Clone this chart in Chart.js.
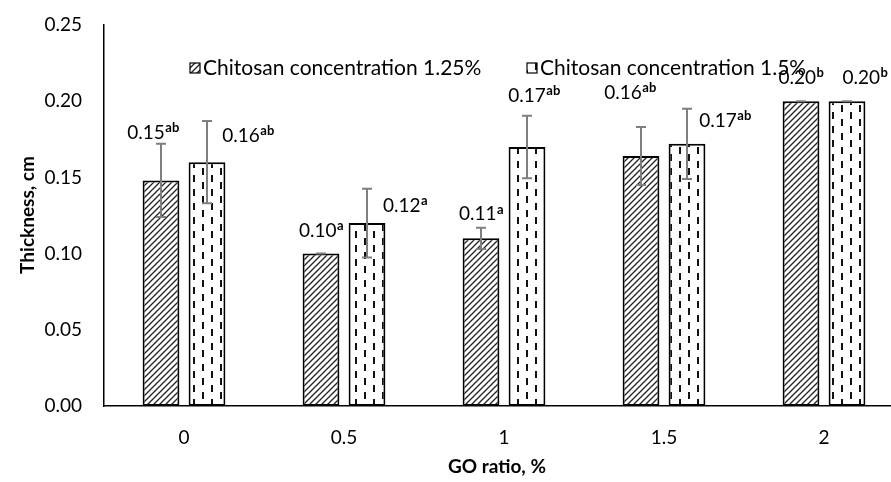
<!DOCTYPE html>
<html>
<head>
<meta charset="utf-8">
<script src="https://cdn.jsdelivr.net/npm/chart.js@4/dist/chart.umd.min.js"></script>
<style>
  html, body { margin: 0; padding: 0; background: #fff; overflow: hidden; width: 891px; height: 482px; }
  #wrap { position: relative; width: 904px; height: 482px; }
</style>
</head>
<body>
<div id="wrap"><canvas id="chart"></canvas></div>
<script>
// Data
const categories = ['0', '0.5', '1', '1.5', '2'];
const conc125 = [0.148, 0.100, 0.110, 0.164, 0.200];
const conc15 = [0.160, 0.120, 0.170, 0.172, 0.200];
const err125 = [0.024, 0, 0.007, 0.019, 0];
const err15 = [0.027, 0.0225, 0.0205, 0.023, 0];
const text125 = ['0.15', '0.10', '0.11', '0.16', '0.20'];
const sup125 = ['ab', 'a', 'a', 'ab', 'b'];
const text15 = ['0.16', '0.12', '0.17', '0.17', '0.20'];
const sup15 = ['ab', 'a', 'ab', 'ab', 'b'];
const yTicks = [0, 0.05, 0.10, 0.15, 0.20, 0.25];

// label offsets from the bar top (pixels), placed by hand like in the original
const offs125 = [[-8, -48], [0, -23], [0, -24], [-11, -63], [0, -23]];
const offs15 = [[41, -26], [38, -17], [7, -51], [38, -23], [18, -23]];

const FONT = 'Lato, "Open Sans", sans-serif';

// Fill patterns
function hatchPattern() {
  const c = document.createElement('canvas');
  c.width = 6; c.height = 6;
  const g = c.getContext('2d');
  g.fillStyle = '#fff';
  g.fillRect(0, 0, 6, 6);
  g.strokeStyle = '#222';
  g.lineWidth = 1.3;
  g.beginPath();
  g.moveTo(0, 6); g.lineTo(6, 0);
  g.moveTo(-1, 1); g.lineTo(1, -1);
  g.moveTo(5, 7); g.lineTo(7, 5);
  g.stroke();
  return g.createPattern(c, 'repeat');
}

function dashPattern() {
  const c = document.createElement('canvas');
  c.width = 18; c.height = 14;
  const g = c.getContext('2d');
  g.fillStyle = '#fff';
  g.fillRect(0, 0, 18, 14);
  g.fillStyle = '#111';
  g.fillRect(4, 0, 2, 7);
  g.fillRect(13, 7, 2, 7);
  return g.createPattern(c, 'repeat');
}

const hatch = hatchPattern();
const dashes = dashPattern();

// Error bars, drawn over the bars
const errorBars = {
  id: 'errorBars',
  afterDatasetsDraw(chart) {
    const ctx = chart.ctx;
    const y = chart.scales.y;
    const errs = [err125, err15];
    ctx.save();
    ctx.strokeStyle = '#7f7f7f';
    ctx.lineWidth = 2;
    chart.data.datasets.forEach((ds, i) => {
      chart.getDatasetMeta(i).data.forEach((bar, j) => {
        const v = ds.data[j], e = errs[i][j];
        const top = y.getPixelForValue(v + e);
        const bot = y.getPixelForValue(v - e);
        ctx.beginPath();
        ctx.moveTo(bar.x, top); ctx.lineTo(bar.x, bot);
        ctx.moveTo(bar.x - 5, top); ctx.lineTo(bar.x + 5, top);
        ctx.moveTo(bar.x - 5, bot); ctx.lineTo(bar.x + 5, bot);
        ctx.stroke();
      });
    });
    ctx.restore();
  }
};

// Value labels with superscript letters
const valueLabels = {
  id: 'valueLabels',
  afterDatasetsDraw(chart) {
    const ctx = chart.ctx;
    const texts = [text125, text15], sups = [sup125, sup15], offs = [offs125, offs15];
    ctx.save();
    ctx.fillStyle = '#000';
    ctx.textBaseline = 'middle';
    chart.data.datasets.forEach((ds, i) => {
      chart.getDatasetMeta(i).data.forEach((bar, j) => {
        const main = texts[i][j], sup = sups[i][j];
        ctx.font = '19px ' + FONT;
        const w1 = ctx.measureText(main).width;
        ctx.font = 'bold 13px ' + FONT;
        const w2 = ctx.measureText(sup).width;
        const cx = bar.x + offs[i][j][0];
        const cy = bar.y + offs[i][j][1];
        const x0 = cx - (w1 + w2) / 2;
        ctx.textAlign = 'left';
        ctx.font = '19px ' + FONT;
        ctx.fillText(main, x0, cy);
        ctx.font = 'bold 13px ' + FONT;
        ctx.fillText(sup, x0 + w1 + 0.5, cy - 5);
      });
    });
    ctx.restore();
  }
};

// Legend inside the plot and axis titles
const extras = {
  id: 'extras',
  afterDraw(chart) {
    const ctx = chart.ctx;
    ctx.save();
    const items = [
      { x: 190, fill: hatch, label: chart.data.datasets[0].label },
      { x: 527, fill: dashes, label: chart.data.datasets[1].label }
    ];
    items.forEach(it => {
      ctx.fillStyle = it.fill;
      ctx.fillRect(it.x, 63, 10, 10);
      ctx.strokeStyle = '#000';
      ctx.lineWidth = 1.2;
      ctx.strokeRect(it.x, 63, 10, 10);
      ctx.fillStyle = '#000';
      ctx.font = '21px ' + FONT;
      ctx.textAlign = 'left';
      ctx.textBaseline = 'middle';
      ctx.fillText(it.label, it.x + 13, 68);
    });

    ctx.font = 'bold 19px ' + FONT;
    ctx.textAlign = 'center';
    ctx.textBaseline = 'middle';
    ctx.fillText('GO ratio, %', 497, 467);
    ctx.translate(28, 215);
    ctx.rotate(-Math.PI / 2);
    ctx.fillText('Thickness, cm', 0, 0);
    ctx.restore();
  }
};

new Chart(document.getElementById('chart'), {
  type: 'bar',
  data: {
    labels: categories,
    datasets: [
      {
        label: 'Chitosan concentration 1.25%',
        data: conc125,
        backgroundColor: hatch,
        borderColor: '#000',
        borderWidth: 2,
        borderSkipped: false
      },
      {
        label: 'Chitosan concentration 1.5%',
        data: conc15,
        backgroundColor: dashes,
        borderColor: '#000',
        borderWidth: 2,
        borderSkipped: false
      }
    ]
  },
  options: {
    responsive: true,
    maintainAspectRatio: false,
    animation: false,
    categoryPercentage: 0.575,
    barPercentage: 0.8,
    layout: { padding: { top: 25, left: 0, right: 0, bottom: 0 } },
    plugins: {
      legend: { display: false },
      tooltip: { enabled: false }
    },
    scales: {
      x: {
        grid: { display: false, drawTicks: false },
        border: { display: true, color: '#000', width: 1.5 },
        ticks: { color: '#000', font: { family: FONT, size: 19 }, padding: 20 },
        afterFit(scale) {
          scale.height = 76;
          scale.paddingLeft = 0;
          scale.paddingRight = 0;
        }
      },
      y: {
        min: 0,
        max: 0.25,
        grid: { display: false, drawTicks: false },
        border: { display: true, color: '#000', width: 1.5 },
        afterBuildTicks(scale) { scale.ticks = yTicks.map(v => ({ value: v })); },
        ticks: {
          color: '#000',
          font: { family: FONT, size: 19 },
          padding: 22,
          callback: v => Number(v).toFixed(2)
        },
        afterFit(scale) {
          scale.width = 104;
          scale.paddingTop = 0;
          scale.paddingBottom = 0;
        }
      }
    }
  },
  plugins: [errorBars, valueLabels, extras]
});
</script>
</body>
</html>
